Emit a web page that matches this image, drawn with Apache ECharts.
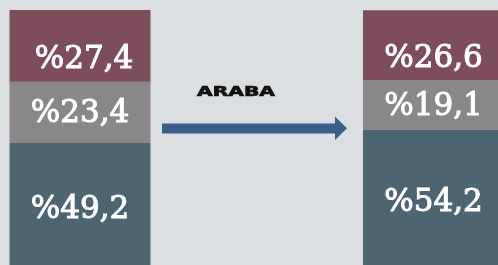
<!DOCTYPE html>
<html>
<head>
<meta charset="utf-8">
<script src="https://cdn.jsdelivr.net/npm/echarts@6/dist/echarts.min.js"></script>
<style>
  html, body { margin: 0; padding: 0; background: #dcdfe2; }
  #chart { width: 498px; height: 265px; }
</style>
</head>
<body>
<div id="chart"></div>
<script>
  var categories = ['Önce', 'Sonra'];
  var altDilim = [49.2, 54.2];   // koyu
  var ortaDilim = [23.4, 19.1];  // gri
  var ustDilim = [27.4, 26.6];   // bordo
  var okYazisi = 'ARABA';

  var myChart = echarts.init(document.getElementById('chart'));

  function etiket(v) {
    return '%' + String(v.value).replace('.', ',');
  }

  var labelStyle = {
    show: true,
    position: 'inside',
    offset: [0, 2],
    color: '#ffffff',
    fontFamily: '"DejaVu Serif", serif',
    fontSize: 31,
    textBorderColor: '#ffffff',
    textBorderWidth: 1,
    formatter: etiket
  };

  var option = {
    backgroundColor: '#dcdfe2',
    animation: false,
    grid: {
      left: -96.75,
      width: 707,
      top: 10,
      bottom: -7,
      outerBoundsMode: 'none'
    },
    xAxis: {
      type: 'category',
      data: categories,
      show: false
    },
    yAxis: {
      type: 'value',
      min: 0,
      max: 100,
      show: false
    },
    series: [
      {
        type: 'bar',
        stack: 'pay',
        barWidth: 141,
        itemStyle: { color: '#4d6570' },
        label: labelStyle,
        data: altDilim
      },
      {
        type: 'bar',
        stack: 'pay',
        barWidth: 141,
        itemStyle: { color: '#8a8788' },
        label: labelStyle,
        data: ortaDilim
      },
      {
        type: 'bar',
        stack: 'pay',
        barWidth: 141,
        itemStyle: { color: '#7d4d5b' },
        label: Object.assign({}, labelStyle, { offset: [0, 14] }),
        data: ustDilim.map(function (v, i) {
          return i === 0 ? { value: v, label: { offset: [4, 14] } } : v;
        })
      }
    ],
    graphic: [
      {
        type: 'polygon',
        z: 10,
        shape: {
          points: [[162, 123.5], [335, 123.5], [335, 116.5], [347, 128.3],
                   [335, 140], [335, 133.5], [162, 133.5]]
        },
        style: { fill: '#3a5d8c' }
      },
      {
        type: 'text',
        z: 10,
        x: 236,
        y: 92.5,
        scaleX: 1.5,
        style: {
          text: okYazisi,
          fill: '#111111',
          stroke: '#111111',
          lineWidth: 0.7,
          font: 'bold 13.5px "DejaVu Sans", sans-serif',
          align: 'center',
          verticalAlign: 'middle'
        }
      }
    ]
  };

  myChart.setOption(option);
</script>
</body>
</html>
